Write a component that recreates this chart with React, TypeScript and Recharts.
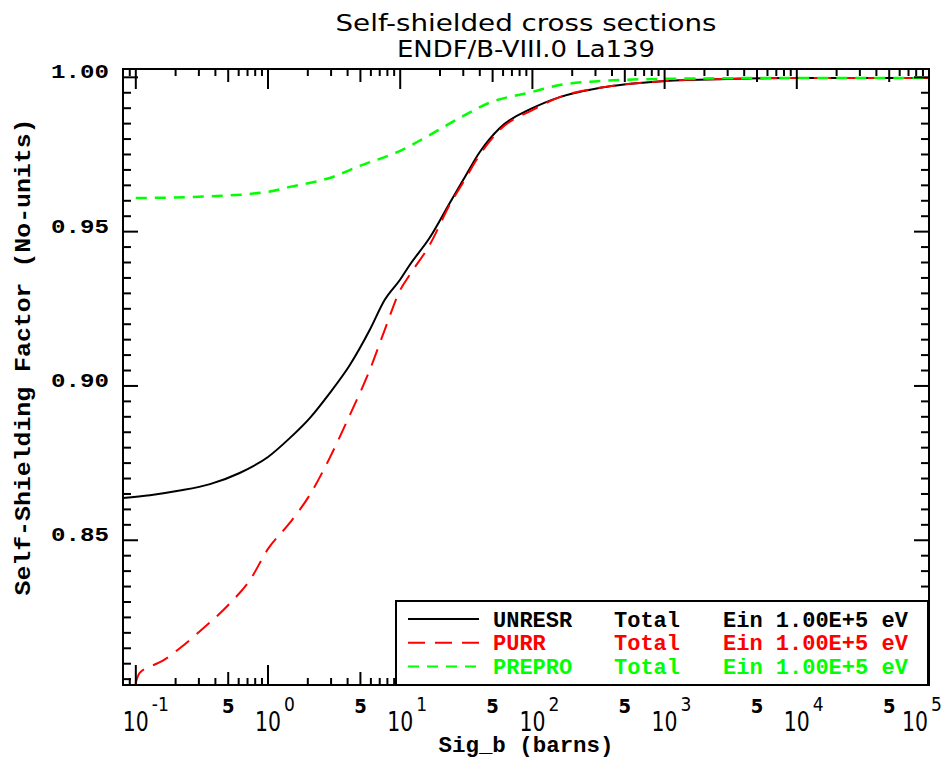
// Self-shielding factor vs background cross section (sigma_0) for La-139,
// three processing codes compared.
import { Legend, Line, LineChart, ReferenceArea, XAxis, YAxis } from "recharts";

// --- data -----------------------------------------------------------------
const unresrSigB = [
  0.08, 0.128, 0.215, 0.364, 0.61, 1, 1.46, 2.07, 2.93, 4.16, 5.89, 7.64, 10, 11.8, 16.7, 23.7,
  30, 40, 56.7, 100, 161, 324, 1000, 3000, 10000, 100000,
];
const unresrFactor = [
  0.8637, 0.8646, 0.8661, 0.8682, 0.8718, 0.877, 0.8831, 0.8896, 0.8977, 0.9068, 0.9182, 0.9279,
  0.9345, 0.9392, 0.948, 0.9593, 0.9668, 0.9758, 0.9836, 0.99, 0.9936, 0.9966, 0.9988, 0.9995,
  0.9998, 0.9998,
];

const purrSigB = [
  0.09, 0.107, 0.128, 0.16, 0.215, 0.305, 0.514, 0.728, 1, 1.46, 2.07, 2.93, 4.16, 5.89, 7.64, 10,
  11.8, 16.7, 23.7, 30, 40, 56.7, 100, 161, 324, 1000, 3000, 10000, 100000,
];
const purrFactor = [
  0.795, 0.807, 0.809, 0.811, 0.815, 0.8205, 0.8295, 0.837, 0.8472, 0.8556, 0.8647, 0.8767, 0.8906,
  0.9052, 0.9182, 0.9311, 0.936, 0.9457, 0.9587, 0.966, 0.9749, 0.983, 0.9894, 0.9936, 0.9966,
  0.9988, 0.9995, 0.9998, 0.9998,
];

const preproSigB = [0.1, 0.3, 1, 1.46, 2.93, 4.95, 10, 16.7, 28, 47, 100, 161, 324, 1000, 10000, 100000];
const preproFactor = [
  0.9609, 0.9613, 0.9629, 0.9645, 0.9674, 0.9713, 0.9762, 0.9813, 0.9868, 0.9917, 0.9953, 0.9975,
  0.9988, 0.9995, 0.9998, 0.9998,
];

const seriesOrder = ["UNRESR", "PURR", "PREPRO"];

// --- axes -----------------------------------------------------------------
const xDecades = [-1, 0, 1, 2, 3, 4, 5];
const xMinorMult = [2, 3, 4, 5, 6, 7, 8, 9];
const xEdgeTicks = [0.08, 0.09];
const yMajorLabels = ["0.85", "0.90", "0.95", "1.00"];

const X_DOMAIN: [number, number] = [0.08, 1e5];
const Y_DOMAIN: [number, number] = [0.8031, 1.0027];

const W = 943;
const H = 760;
const PLOT = { left: 123, top: 69, right: 929, bottom: 685 };

const MONO = "'Liberation Mono', 'DejaVu Sans Mono', monospace";
const NARROW = "'Liberation Sans Narrow', 'DejaVu Sans Condensed', 'Liberation Sans', sans-serif";

const xTicks = [
  ...xEdgeTicks,
  ...xDecades.flatMap((d) => [10 ** d, ...(d < 5 ? xMinorMult.map((m) => m * 10 ** d) : [])]),
];
const yTicks: number[] = [];
for (let i = 161; i <= 200; i++) yTicks.push(Number((i * 0.005).toFixed(3)));

const toPoints = (xs: number[], ys: number[]) => xs.map((x, i) => ({ x, y: ys[i] }));
const unresr = toPoints(unresrSigB, unresrFactor);
const purr = toPoints(purrSigB, purrFactor);
const prepro = toPoints(preproSigB, preproFactor);

const DASH: Record<string, string | undefined> = {
  UNRESR: undefined,
  PURR: "17 10",
  PREPRO: "11 8",
};

function XTick(props: any) {
  const { x, payload } = props;
  const v: number = payload.value;
  const exp = Math.floor(Math.log10(v) + 1e-9);
  const mant = v / 10 ** exp;
  const isMajor = Math.abs(mant - 1) < 1e-6;
  const isFive = Math.abs(mant - 5) < 1e-6;
  const len = isMajor ? 20 : isFive ? 13 : 7;
  // last label is pulled in so it stays inside the picture
  const lx = exp === 5 && isMajor ? x - 14 : x;
  return (
    <g>
      <line x1={x} x2={x} y1={PLOT.bottom} y2={PLOT.bottom - len} stroke="#000" strokeWidth={2} />
      <line x1={x} x2={x} y1={PLOT.top} y2={PLOT.top + len} stroke="#000" strokeWidth={2} />
      {isMajor && (
        <>
          <text x={lx} y={731} textAnchor="middle" fontFamily={NARROW} fontSize={27} textLength={26} lengthAdjust="spacingAndGlyphs" fill="#000">
            10
          </text>
          <text x={lx + 16} y={711} textAnchor="start" fontFamily={NARROW} fontSize={19} fill="#000">
            {String(exp)}
          </text>
        </>
      )}
      {isFive && (
        <text x={x} y={713} textAnchor="middle" fontFamily={NARROW} fontSize={20} fontWeight="bold" fill="#000">
          5
        </text>
      )}
    </g>
  );
}

function YTick(props: any) {
  const { y, payload } = props;
  const v: number = payload.value;
  const label = yMajorLabels.find((l) => Math.abs(Number(l) - v) < 1e-6);
  const len = label ? 15 : 8;
  return (
    <g>
      <line x1={PLOT.left} x2={PLOT.left + len} y1={y} y2={y} stroke="#000" strokeWidth={2} />
      <line x1={PLOT.right} x2={PLOT.right - len} y1={y} y2={y} stroke="#000" strokeWidth={2} />
      {label && (
        <text x={109} y={y + 1} textAnchor="end" fontFamily={MONO} fontWeight="bold" fontSize={20} textLength={58} lengthAdjust="spacingAndGlyphs" fill="#000">
          {label}
        </text>
      )}
    </g>
  );
}

function LegendBox(props: any) {
  const payload = [...(props.payload ?? [])].sort(
    (a: any, b: any) => seriesOrder.indexOf(a.value) - seriesOrder.indexOf(b.value),
  );
  return (
    <svg width={534} height={86} style={{ display: "block" }}>
      <rect x={1} y={1} width={532} height={84} fill="#fff" stroke="#000" strokeWidth={2} />
      {payload.map((entry: any, i: number) => {
        const cy = 19 + i * 23.7;
        const color = entry.color;
        return (
          <g key={entry.value}>
            <line x1={13} x2={84} y1={cy} y2={cy} stroke={color} strokeWidth={2} strokeDasharray={DASH[entry.value]} />
            <text x={98} y={cy + 7.5} fontFamily={MONO} fontWeight="bold" fontSize={22} fill={color}>
              {entry.value}
            </text>
            <text x={219} y={cy + 7.5} fontFamily={MONO} fontWeight="bold" fontSize={22} fill={color}>
              Total
            </text>
            <text x={328} y={cy + 7.5} fontFamily={MONO} fontWeight="bold" fontSize={22} fill={color}>
              Ein 1.00E+5 eV
            </text>
          </g>
        );
      })}
    </svg>
  );
}

export default function App() {
  return (
    <div style={{ position: "absolute", left: 0, top: 0, width: W, height: H, background: "#fff" }}>
      <LineChart
        width={W}
        height={H}
        margin={{ top: PLOT.top, left: PLOT.left - 1, right: W - PLOT.right, bottom: H - PLOT.bottom - 1 }}
      >
        <XAxis
          dataKey="x"
          type="number"
          scale="log"
          domain={X_DOMAIN}
          allowDataOverflow
          ticks={xTicks}
          interval={0}
          tick={(p: any) => <XTick {...p} />}
          tickLine={false}
          axisLine={false}
          height={1}
        />
        <YAxis
          type="number"
          domain={Y_DOMAIN}
          allowDataOverflow
          ticks={yTicks}
          interval={0}
          tick={(p: any) => <YTick {...p} />}
          tickLine={false}
          axisLine={false}
          width={1}
        />
        <ReferenceArea
          x1={X_DOMAIN[0]}
          x2={X_DOMAIN[1]}
          y1={Y_DOMAIN[0]}
          y2={Y_DOMAIN[1]}
          fill="none"
          fillOpacity={0}
          stroke="#000"
          strokeWidth={2}
          ifOverflow="visible"
        />
        <Line data={unresr} dataKey="y" name="UNRESR" type="monotone" stroke="#000000" strokeWidth={2} dot={false} isAnimationActive={false} />
        <Line data={purr} dataKey="y" name="PURR" type="monotone" stroke="#ff0000" strokeWidth={2} strokeDasharray={DASH.PURR} dot={false} isAnimationActive={false} />
        <Line data={prepro} dataKey="y" name="PREPRO" type="monotone" stroke="#00ff00" strokeWidth={2.5} strokeDasharray={DASH.PREPRO} dot={false} isAnimationActive={false} />
        <Legend
          layout="vertical"
          align="center"
          verticalAlign="middle"
          content={(p: any) => <LegendBox {...p} />}
          wrapperStyle={{ position: "absolute", left: 395, top: 600, width: 534, height: 86 }}
        />
        <text x={526} y={31} textAnchor="middle" fontFamily={NARROW} fontSize={23} textLength={381} lengthAdjust="spacingAndGlyphs" fill="#000">
          Self-shielded cross sections
        </text>
        <text x={526} y={57} textAnchor="middle" fontFamily={NARROW} fontSize={23} textLength={258} lengthAdjust="spacingAndGlyphs" fill="#000">
          ENDF/B-VIII.0 La139
        </text>
        <text x={526} y={752} textAnchor="middle" fontFamily={MONO} fontWeight="bold" fontSize={22} textLength={175} lengthAdjust="spacingAndGlyphs" fill="#000">
          Sig_b (barns)
        </text>
        <text transform="rotate(-90)" x={-357} y={30} textAnchor="middle" fontFamily={MONO} fontWeight="bold" fontSize={22} textLength={477} lengthAdjust="spacingAndGlyphs" fill="#000">
          Self-Shielding Factor (No-units)
        </text>
      </LineChart>
    </div>
  );
}
